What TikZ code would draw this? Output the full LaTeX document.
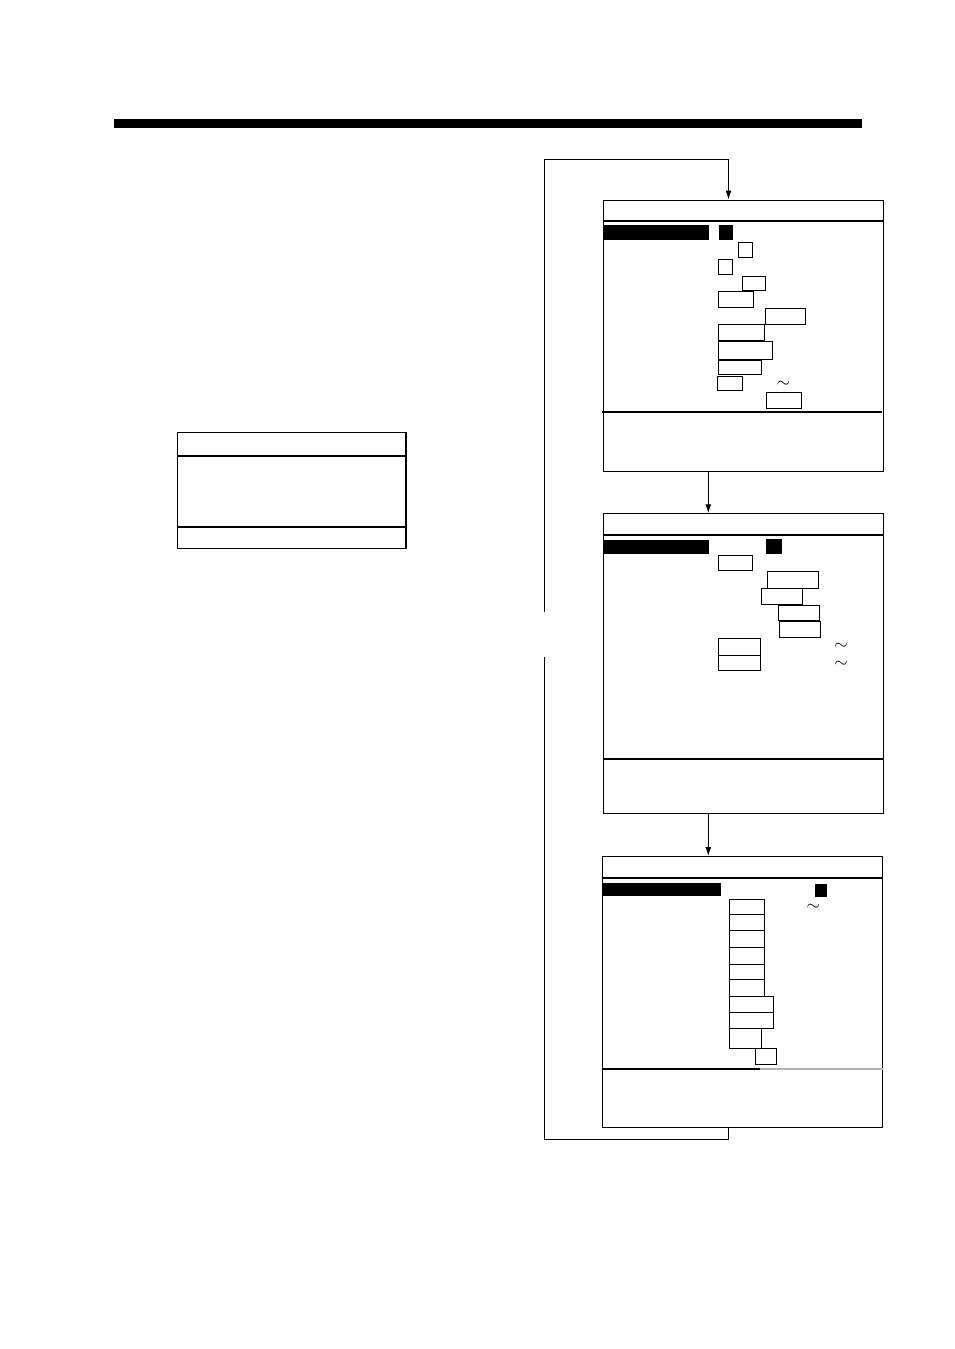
\documentclass[tikz,border=0pt]{standalone}
\usetikzlibrary{arrows.meta}
\tikzset{
  screen/.style={draw,line width=1.1pt,rectangle,inner sep=0pt,anchor=north west},
  fld/.style={draw,line width=1pt,rectangle,inner sep=0pt,anchor=north west},
  blk/.style={fill=black,rectangle,inner sep=0pt,anchor=north west},
  thin/.style={line width=1.1pt},
  thickdiv/.style={line width=2.4pt},
  arr/.style={line width=1.1pt,-{Latex[length=9pt,width=6pt]}},
  til/.style={inner sep=0pt,font=\fontsize{16}{16}\selectfont}
}
\newcommand\fld[5]{\node[fld,minimum width={(#4-#2)*1pt},minimum height={(#5-#3)*1pt}] (#1) at (#2,#3) {};}
\newcommand\blkbox[5]{\node[blk,minimum width={(#4-#2)*1pt},minimum height={(#5-#3)*1pt}] (#1) at (#2,#3) {};}
\newcommand\scr[5]{\node[screen,minimum width={(#4-#2)*1pt},minimum height={(#5-#3)*1pt}] (#1) at (#2,#3) {};}
\begin{document}
\begin{tikzpicture}[x=1pt,y=-1pt]
\useasboundingbox (0,0) rectangle (954,1349);
% top bar
\blkbox{bar}{114}{119}{862}{127.5}
% left box
\scr{lbox}{177}{432}{404.5}{548}
\draw[thin] (lbox.west |- 0,456) -- (lbox.east |- 0,456);
\draw[thickdiv] (lbox.west |- 0,527) -- (lbox.east |- 0,527);
\draw[line width=2pt] (lbox.north east) -- (lbox.south east);
% screen 1
\scr{s1}{603.3}{199.5}{883}{471}
\draw[thin] (s1.west |- 0,221) -- (s1.east |- 0,221);
\draw[thickdiv] (602,412) -- (882,412);
\blkbox{s1bar}{603.3}{225}{709}{239.7}
\blkbox{s1sq}{718.3}{225}{732.7}{240}
\fld{a1}{738.3}{242.3}{752.3}{257.3}
\fld{a2}{718.3}{259.3}{732.3}{274.3}
\fld{a3}{742.3}{276.3}{765.3}{290.3}
\fld{a4}{718.3}{291.3}{753.3}{307.3}
\fld{a5}{765.3}{308.3}{805.3}{324.3}
\fld{a6}{718.3}{324.3}{764.3}{340.3}
\fld{a7}{718.3}{341.3}{772.3}{359.3}
\fld{a8}{718.3}{359.7}{761.3}{374.3}
\fld{a9}{717.3}{376.3}{742.3}{390.3}
\fld{a10}{766.3}{392.3}{801.3}{408.3}
\node[til] (t1) at (783.3,384) {$\sim$};
% screen 2
\scr{s2}{603.3}{513.3}{883.3}{813.3}
\draw[thickdiv] (s2.west |- 0,534.7) -- (s2.east |- 0,534.7);
\draw[thickdiv] (s2.west |- 0,758.7) -- (s2.east |- 0,758.7);
\blkbox{s2bar}{603.3}{540}{709}{553.7}
\blkbox{s2sq}{766}{538.3}{781.7}{553.7}
\fld{b1}{718.3}{555.3}{751.7}{570.3}
\fld{b2}{767.3}{571.3}{818.3}{588.3}
\fld{b3}{761.3}{588.3}{802}{604.3}
\fld{b4}{778.3}{604.7}{819.3}{620.3}
\fld{b5}{779.3}{621.3}{820.3}{637}
\fld{b6}{718.3}{638.3}{760.3}{654.7}
\fld{b7}{718.3}{654.7}{760.3}{670.3}
\node[til] (t2) at (841,646.7) {$\sim$};
\node[til] (t3) at (841,664.7) {$\sim$};
% screen 3
\scr{s3}{602.3}{856}{881.7}{1127.3}
\draw[thickdiv] (s3.west |- 0,877.7) -- (s3.east |- 0,877.7);
\draw[thickdiv] (s3.west |- 0,1069) -- (760,1069);
\draw[thickdiv,gray!60] (760,1069) -- (s3.east |- 0,1069);
\blkbox{s3bar}{602.3}{882.3}{720.7}{895.7}
\blkbox{s3sq}{814.3}{883.3}{827}{896.7}
\fld{c1}{729.3}{898.7}{764.3}{914.3}
\fld{c2}{729.3}{914.3}{764.3}{930.3}
\fld{c3}{729.3}{930.3}{764.3}{947}
\fld{c4}{729.3}{947}{764.3}{963.7}
\fld{c5}{729.3}{963.7}{764.3}{979.3}
\fld{c6}{729.3}{979.3}{764.3}{995.7}
\fld{c7}{729.3}{995.7}{773.3}{1012.3}
\fld{c8}{729.3}{1012.3}{773.3}{1028.3}
\fld{c9}{729.3}{1028.3}{761.3}{1048.3}
\fld{c10}{755.3}{1048.3}{776.3}{1064}
\node[til] (t4) at (813.3,907.3) {$\sim$};
% connectors
\draw[arr] (s1.south -| 708.3,0) -- (s2.north -| 708.3,0);
\draw[arr] (s2.south -| 708.3,0) -- (s3.north -| 708.3,0);
\coordinate (lb) at (728.5,1139.3);
\coordinate (lc) at (544.3,1139.3);
\coordinate (lg1) at (544.3,656.7);
\coordinate (lg2) at (544.3,611.7);
\coordinate (lt) at (544.3,159.3);
\coordinate (lr) at (728.5,159.3);
\draw[thin] (s3.south -| lb) -- (lb) -- (lc) -- (lg1);
\draw[arr] (lg2) -- (lt) -- (lr) -- (s1.north -| lr);
\end{tikzpicture}
\end{document}
